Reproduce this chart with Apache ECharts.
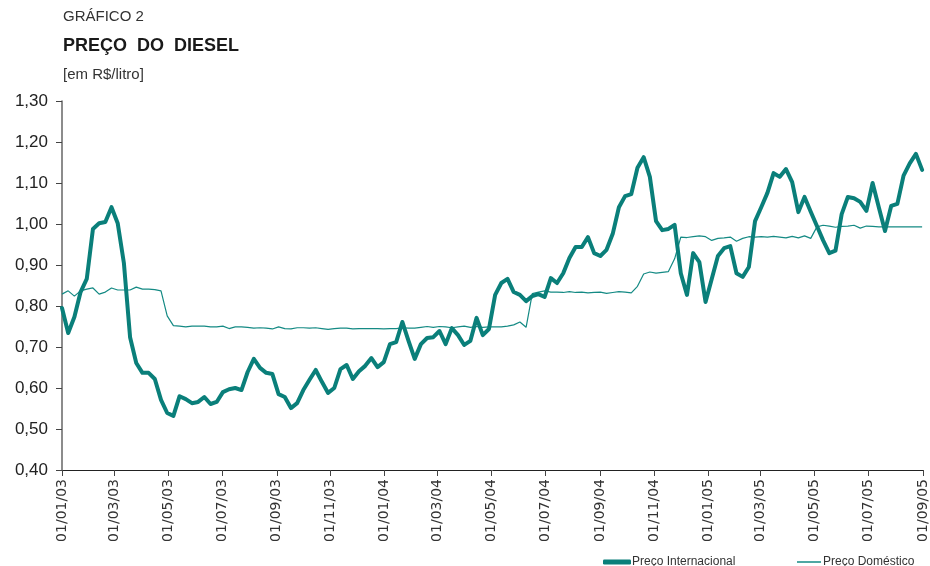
<!DOCTYPE html>
<html>
<head>
<meta charset="utf-8">
<title>Preço do diesel</title>
<script src="https://cdn.jsdelivr.net/npm/echarts@6/dist/echarts.min.js"></script>
<style>
	html, body {margin: 0; padding: 0; background: #fff;}
	#chart {width: 930px; height: 566px;}
</style>
</head>
<body>
<div id="chart"></div>
<script>
//rótulos do eixo x (a cada dois meses)
var tickLabels = ['01/01/03', '01/03/03', '01/05/03', '01/07/03', '01/09/03', '01/11/03', '01/01/04', '01/03/04',
	'01/05/04', '01/07/04', '01/09/04', '01/11/04', '01/01/05', '01/03/05', '01/05/05', '01/07/05', '01/09/05'];
var seriesNames = ['Preço Internacional', 'Preço Doméstico'];
//dados semanais a partir de 01/01/03
var startLabel = '01/01/03', weekStep = 7;
var precoInternacional = [
	0.795, 0.734, 0.773, 0.834, 0.866, 0.988, 1.002, 1.005, 1.041, 1.002,
	0.905, 0.724, 0.661, 0.637, 0.637, 0.622, 0.571, 0.539, 0.532, 0.580,
	0.573, 0.563, 0.566, 0.578, 0.561, 0.566, 0.590, 0.597, 0.600, 0.595,
	0.639, 0.671, 0.649, 0.637, 0.634, 0.585, 0.578, 0.551, 0.563, 0.595,
	0.620, 0.644, 0.615, 0.588, 0.600, 0.646, 0.656, 0.622, 0.641, 0.654,
	0.673, 0.651, 0.663, 0.707, 0.712, 0.761, 0.715, 0.671, 0.707, 0.722,
	0.724, 0.739, 0.707, 0.746, 0.729, 0.705, 0.715, 0.771, 0.729, 0.744,
	0.827, 0.856, 0.866, 0.834, 0.827, 0.812, 0.824, 0.829, 0.822, 0.868,
	0.856, 0.880, 0.917, 0.944, 0.944, 0.968, 0.929, 0.922, 0.937, 0.976,
	1.041, 1.068, 1.073, 1.137, 1.163, 1.115, 1.007, 0.985, 0.988, 0.998,
	0.880, 0.827, 0.929, 0.907, 0.810, 0.866, 0.922, 0.941, 0.946, 0.880,
	0.871, 0.895, 1.007, 1.041, 1.076, 1.124, 1.115, 1.134, 1.102, 1.029,
	1.066, 1.030, 0.995, 0.960, 0.929, 0.935, 1.024, 1.066, 1.063, 1.054,
	1.032, 1.100, 1.041, 0.983, 1.044, 1.049, 1.118, 1.148, 1.171, 1.132
];
var precoDomestico = [
	0.829, 0.837, 0.824, 0.837, 0.841, 0.844, 0.829, 0.834, 0.844, 0.839,
	0.839, 0.839, 0.846, 0.841, 0.841, 0.840, 0.837, 0.776, 0.752, 0.751,
	0.749, 0.751, 0.751, 0.751, 0.749, 0.749, 0.751, 0.745, 0.749, 0.749,
	0.748, 0.746, 0.747, 0.746, 0.744, 0.749, 0.745, 0.744, 0.747, 0.747,
	0.746, 0.747, 0.745, 0.743, 0.745, 0.746, 0.746, 0.744, 0.745, 0.745,
	0.745, 0.745, 0.744, 0.745, 0.745, 0.747, 0.746, 0.746, 0.748, 0.750,
	0.748, 0.750, 0.749, 0.747, 0.749, 0.751, 0.748, 0.750, 0.748, 0.749,
	0.749, 0.749, 0.751, 0.754, 0.761, 0.748, 0.830, 0.834, 0.837, 0.834,
	0.834, 0.833, 0.835, 0.833, 0.834, 0.832, 0.833, 0.834, 0.831, 0.833,
	0.835, 0.834, 0.832, 0.848, 0.878, 0.883, 0.880, 0.882, 0.884, 0.915,
	0.968, 0.967, 0.969, 0.971, 0.969, 0.960, 0.965, 0.966, 0.968, 0.958,
	0.965, 0.969, 0.968, 0.969, 0.968, 0.970, 0.968, 0.966, 0.970, 0.966,
	0.971, 0.965, 0.993, 0.997, 0.995, 0.992, 0.994, 0.995, 0.997, 0.990,
	0.995, 0.994, 0.993, 0.993, 0.993, 0.993, 0.993, 0.993, 0.993, 0.993
];

var COR = '#0a7f7a';

//converte 'dd/mm/aa' em dias desde o início
function labelToDay(label){
	var p = label.split('/');
	var s = startLabel.split('/');
	var t = Date.UTC(2000 + parseInt(p[2], 10), parseInt(p[1], 10) - 1, parseInt(p[0], 10));
	var t0 = Date.UTC(2000 + parseInt(s[2], 10), parseInt(s[1], 10) - 1, parseInt(s[0], 10));
	return Math.round((t - t0) / 86400000);
}

function buildData(values){
	var data = [];
	for(var i = 0; i < values.length; i++){
		data.push([i * weekStep, values[i]]);
	}
	return data;
}

var tickDays = [];
for(var i = 0; i < tickLabels.length; i++){
	tickDays.push(labelToDay(tickLabels[i]));
}

var chart = echarts.init(document.getElementById('chart'), null, {renderer: 'canvas'});
var option = {
	animation: false,
	backgroundColor: '#fff',
	textStyle: {fontFamily: 'Liberation Sans'},
	graphic: [
		{type: 'text', left: 63, top: 9, style: {text: 'GRÁFICO 2', font: '15px "Liberation Sans"', fill: '#333'}},
		{type: 'text', left: 63, top: 37, style: {text: 'PREÇO  DO  DIESEL', font: 'bold 18px "Liberation Sans"', fill: '#1a1a1a'}},
		{type: 'text', left: 63, top: 67, style: {text: '[em R$/litro]', font: '15px "Liberation Sans"', fill: '#333'}}
	],
	legend: [
		{
			data: [seriesNames[0]], left: 598, top: 551,
			icon: 'roundRect', itemWidth: 28, itemHeight: 5,
			textStyle: {fontSize: 12, color: '#333', fontFamily: 'Liberation Sans', padding: [0, 0, 0, -4]}
		},
		{
			data: [seriesNames[1]], left: 792, top: 551,
			icon: 'rect', itemWidth: 24, itemHeight: 1.5,
			textStyle: {fontSize: 12, color: '#333', fontFamily: 'Liberation Sans', padding: [0, 0, 0, -3]}
		}
	],
	grid: {left: 62, right: 5, top: 101, bottom: 96},
	xAxis: {
		type: 'value',
		min: 0,
		max: tickDays[tickDays.length - 1],
		splitLine: {show: false},
		axisLine: {lineStyle: {color: '#222', width: 1}},
		axisTick: {show: true, length: 6, lineStyle: {color: '#444'}, customValues: tickDays},
		axisLabel: {
			customValues: tickDays,
			rotate: 90,
			margin: 9,
			fontSize: 14,
			fontFamily: 'DejaVu Sans',
			color: '#333',
			formatter: function(value){
				var idx = tickDays.indexOf(Math.round(value));
				return idx >= 0 ? tickLabels[idx] : '';
			}
		}
	},
	yAxis: {
		type: 'value',
		min: 0.4,
		max: 1.3,
		interval: 0.1,
		splitLine: {show: false},
		axisLine: {show: true, lineStyle: {color: '#666', width: 1.5}},
		axisTick: {show: true, length: 6, lineStyle: {color: '#444'}},
		axisLabel: {
			fontSize: 17,
			color: '#222',
			margin: 14,
			formatter: function(value){
				return value.toFixed(2).replace('.', ',');
			}
		}
	},
	series: [
		{
			name: seriesNames[0],
			type: 'line',
			data: buildData(precoInternacional),
			showSymbol: false,
			symbol: 'none',
			color: COR,
			lineStyle: {width: 4, color: COR, cap: 'round', join: 'round'},
			z: 3
		},
		{
			name: seriesNames[1],
			type: 'line',
			data: buildData(precoDomestico),
			showSymbol: false,
			symbol: 'none',
			color: '#148a84',
			lineStyle: {width: 1.2, color: '#148a84'},
			z: 2
		}
	]
};
chart.setOption(option);
</script>
</body>
</html>
